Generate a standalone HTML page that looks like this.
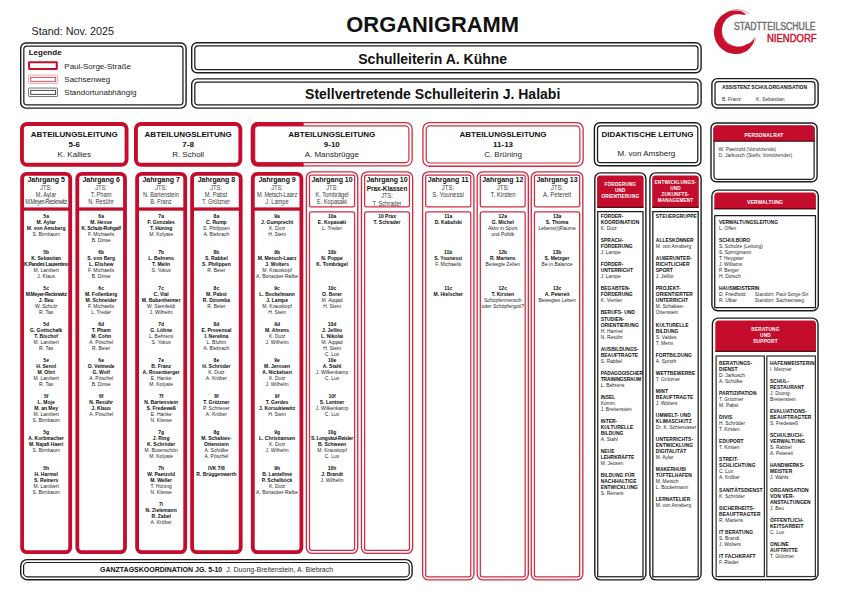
<!DOCTYPE html>
<html><head><meta charset="utf-8"><title>Organigramm</title><style>
html,body{margin:0;padding:0;background:#fff;}
body{width:842px;height:595px;position:relative;overflow:hidden;font-family:"Liberation Sans",sans-serif;}
.t{position:absolute;white-space:nowrap;}
svg.s{position:absolute;left:0;top:0;}
</style></head><body>
<svg class="s" width="842" height="595" viewBox="0 0 842 595">
<rect x="20.70" y="43.00" width="165.40" height="65.10" rx="5.30" fill="none" stroke="#1c1c1c" stroke-width="1.4"/>
<rect x="23.82" y="46.12" width="159.15" height="58.85" rx="3.17" fill="none" stroke="#1c1c1c" stroke-width="1.25"/>
<rect x="29.10" y="62.20" width="27.70" height="6.70" rx="0.40" fill="none" stroke="#c40d2c" stroke-width="2.0"/>
<rect x="28.55" y="75.05" width="29.00" height="8.40" rx="0.55" fill="none" stroke="#e8a0aa" stroke-width="0.9"/>
<rect x="30.75" y="77.35" width="24.90" height="4.00" rx="0.00" fill="none" stroke="#d23a4c" stroke-width="0.9"/>
<rect x="28.55" y="88.05" width="29.00" height="8.50" rx="0.55" fill="none" stroke="#666" stroke-width="0.9"/>
<rect x="30.75" y="90.35" width="24.90" height="4.00" rx="0.00" fill="none" stroke="#333" stroke-width="0.9"/>
<rect x="191.70" y="42.80" width="509.40" height="30.00" rx="5.30" fill="none" stroke="#1c1c1c" stroke-width="1.4"/>
<rect x="194.82" y="45.93" width="503.15" height="23.75" rx="3.17" fill="none" stroke="#1c1c1c" stroke-width="1.25"/>
<rect x="191.70" y="78.90" width="509.40" height="29.20" rx="5.30" fill="none" stroke="#1c1c1c" stroke-width="1.4"/>
<rect x="194.82" y="82.03" width="503.15" height="22.95" rx="3.17" fill="none" stroke="#1c1c1c" stroke-width="1.25"/>
<rect x="711.90" y="78.60" width="106.20" height="29.40" rx="5.30" fill="none" stroke="#1c1c1c" stroke-width="1.4"/>
<rect x="715.03" y="81.73" width="99.95" height="23.15" rx="3.17" fill="none" stroke="#1c1c1c" stroke-width="1.25"/>
<path d="M 746.46 14.89 L 745.43 13.95 L 744.29 13.03 L 743.03 12.15 L 741.67 11.32 L 740.36 11.00 L 739.04 10.75 L 737.70 10.59 L 736.36 10.51 L 735.01 10.51 L 733.67 10.60 L 732.33 10.77 L 731.01 11.02 L 729.70 11.36 L 728.42 11.77 L 727.16 12.27 L 725.94 12.84 L 724.76 13.48 L 723.62 14.20 L 722.52 14.98 L 721.48 15.84 L 720.49 16.75 L 719.56 17.72 L 718.69 18.75 L 717.89 19.84 L 717.16 20.97 L 716.49 22.14 L 715.90 23.35 L 715.39 24.60 L 714.96 25.87 L 714.60 27.17 L 714.33 28.49 L 714.14 29.83 L 714.03 31.17 L 714.00 32.52 L 714.06 33.86 L 714.20 35.20 L 714.43 36.53 L 714.73 37.84 L 715.12 39.13 L 715.58 40.40 L 716.13 41.63 L 716.75 42.83 L 717.44 43.98 L 718.20 45.10 L 719.03 46.16 L 719.92 47.17 L 720.87 48.12 L 721.89 49.01 L 722.95 49.83 L 724.06 50.59 L 725.22 51.28 L 726.42 51.90 L 727.66 52.44 L 728.92 52.90 L 730.21 53.28 L 731.53 53.59 L 732.85 53.81 L 734.19 53.94 L 735.54 54.00 L 736.89 53.97 L 738.23 53.86 L 739.56 53.66 L 740.88 53.39 L 742.18 53.03 L 743.46 52.59 L 744.70 52.07 L 745.91 51.48 L 747.08 50.81 L 748.18 49.81 L 749.21 48.76 L 750.16 47.65 L 751.04 46.51 L 751.84 45.33 L 752.56 44.13 L 753.20 42.89 L 753.77 41.64 L 754.25 40.38 L 754.65 39.11 L 754.97 37.83 L 755.21 36.56 L 755.21 36.56 L 754.74 37.52 L 754.21 38.43 L 753.62 39.29 L 752.98 40.10 L 752.30 40.84 L 751.58 41.52 L 750.82 42.14 L 750.03 42.69 L 749.21 43.18 L 748.37 43.59 L 747.51 43.94 L 746.64 44.23 L 745.77 44.72 L 744.87 45.16 L 743.94 45.55 L 742.99 45.88 L 742.02 46.14 L 741.04 46.35 L 740.05 46.49 L 739.05 46.58 L 738.04 46.60 L 737.04 46.56 L 736.04 46.46 L 735.05 46.29 L 734.08 46.07 L 733.11 45.78 L 732.17 45.44 L 731.25 45.03 L 730.36 44.58 L 729.50 44.06 L 728.67 43.50 L 727.87 42.88 L 727.12 42.22 L 726.41 41.51 L 725.74 40.76 L 725.13 39.97 L 724.56 39.14 L 724.04 38.28 L 723.58 37.39 L 723.18 36.47 L 722.83 35.53 L 722.54 34.57 L 722.32 33.59 L 722.15 32.60 L 722.04 31.60 L 722.00 30.60 L 722.02 29.59 L 722.10 28.59 L 722.24 27.60 L 722.45 26.62 L 722.71 25.65 L 723.04 24.70 L 723.42 23.77 L 723.86 22.87 L 724.35 22.00 L 724.90 21.15 L 725.50 20.35 L 726.14 19.58 L 726.84 18.86 L 727.57 18.17 L 728.35 17.54 L 729.16 16.95 L 730.01 16.42 L 730.90 15.94 L 731.81 15.52 L 732.74 15.15 L 733.69 14.84 L 734.67 14.59 L 735.65 14.40 L 736.65 14.27 L 737.65 14.21 L 738.65 14.21 L 739.65 14.27 L 740.65 14.39 L 741.64 14.57 L 742.61 14.81 L 743.49 14.69 L 744.43 14.66 L 745.42 14.73 L 746.46 14.89 Z" fill="#c8102e"/>
<path d="M 749.5 13.6 A 22.5 22.5 0 0 0 727 12" fill="none" stroke="#c8102e" stroke-width="0.7" opacity="0.6"/>
<path d="M 724.5 24 A 15 15 0 0 0 729 45" fill="none" stroke="#fff" stroke-width="0.5" opacity="0.5"/>
<path d="M 733 49.5 A 18 18 0 0 0 756.5 38" fill="none" stroke="#c8102e" stroke-width="0.6" opacity="0.55"/>
<rect x="21.95" y="123.95" width="104.60" height="40.80" rx="5.05" fill="none" stroke="#c40d2c" stroke-width="3.9"/>
<rect x="135.95" y="123.95" width="104.40" height="40.80" rx="5.05" fill="none" stroke="#c40d2c" stroke-width="3.9"/>
<rect x="251.45" y="122.65" width="160.70" height="43.30" rx="6.35" fill="none" stroke="#cf2c44" stroke-width="1.3"/>
<rect x="254.70" y="125.90" width="154.20" height="36.80" rx="3.90" fill="none" stroke="#cf2c44" stroke-width="1.2"/>
<path d="M 303.7 123.95 L 257.8 123.95 A 5.05 5.05 0 0 0 252.75 129 L 252.75 159.6 A 5.05 5.05 0 0 0 257.8 164.65 L 303.7 164.65" fill="none" stroke="#c40d2c" stroke-width="3.9"/>
<rect x="422.95" y="122.65" width="160.20" height="43.60" rx="6.35" fill="none" stroke="#cf2c44" stroke-width="1.3"/>
<rect x="426.20" y="125.90" width="153.70" height="37.10" rx="3.90" fill="none" stroke="#cf2c44" stroke-width="1.2"/>
<rect x="594.40" y="122.70" width="106.50" height="43.10" rx="5.30" fill="none" stroke="#1c1c1c" stroke-width="1.4"/>
<rect x="597.53" y="125.83" width="100.25" height="36.85" rx="3.17" fill="none" stroke="#1c1c1c" stroke-width="1.25"/>
<rect x="711.00" y="123.00" width="106.10" height="58.70" rx="5.30" fill="none" stroke="#1c1c1c" stroke-width="1.4"/>
<rect x="714.00" y="126.00" width="100.10" height="53.30" rx="3.20" fill="none" stroke="#1c1c1c" stroke-width="1.2"/>
<path d="M 713.6 129.0 A 3.4 3.4 0 0 1 717.0 125.6 L 811.1 125.6 A 3.4 3.4 0 0 1 814.5 129.0 L 814.5 141.4 A 0 0 0 0 1 814.5 141.4 L 713.6 141.4 A 0 0 0 0 1 713.6 141.4 Z" fill="#c40d2c"/>
<rect x="713.6" y="140.6" width="100.9" height="1" fill="#3a0a10"/>
<rect x="22.10" y="173.80" width="48.10" height="378.40" rx="4.60" fill="none" stroke="#c40d2c" stroke-width="3.8"/>
<rect x="21.2" y="207.4" width="49.89999999999999" height="3.3" fill="#c40d2c"/>
<rect x="77.30" y="173.80" width="47.70" height="378.40" rx="4.60" fill="none" stroke="#c40d2c" stroke-width="3.8"/>
<rect x="76.4" y="207.4" width="49.5" height="3.3" fill="#c40d2c"/>
<rect x="137.10" y="173.80" width="48.10" height="378.40" rx="4.60" fill="none" stroke="#c40d2c" stroke-width="3.8"/>
<rect x="136.2" y="207.4" width="49.900000000000006" height="3.3" fill="#c40d2c"/>
<rect x="192.10" y="173.80" width="48.60" height="378.40" rx="4.60" fill="none" stroke="#c40d2c" stroke-width="3.8"/>
<rect x="191.2" y="207.4" width="50.400000000000006" height="3.3" fill="#c40d2c"/>
<rect x="252.80" y="173.80" width="48.60" height="378.40" rx="4.60" fill="none" stroke="#c40d2c" stroke-width="3.8"/>
<rect x="251.9" y="207.4" width="50.400000000000006" height="3.3" fill="#c40d2c"/>
<rect x="306.38" y="171.88" width="51.35" height="381.55" rx="5.83" fill="none" stroke="#cf2c44" stroke-width="1.35"/>
<rect x="309.52" y="175.03" width="45.05" height="31.85" rx="1.58" fill="none" stroke="#cf2c44" stroke-width="1.25"/>
<rect x="309.52" y="211.82" width="45.05" height="338.45" rx="1.98" fill="none" stroke="#cf2c44" stroke-width="1.25"/>
<rect x="361.48" y="171.88" width="51.15" height="381.55" rx="5.83" fill="none" stroke="#cf2c44" stroke-width="1.35"/>
<rect x="364.62" y="175.03" width="44.85" height="31.85" rx="1.58" fill="none" stroke="#cf2c44" stroke-width="1.25"/>
<rect x="364.62" y="211.82" width="44.85" height="338.45" rx="1.98" fill="none" stroke="#cf2c44" stroke-width="1.25"/>
<rect x="422.57" y="171.88" width="51.35" height="408.05" rx="5.83" fill="none" stroke="#cf2c44" stroke-width="1.35"/>
<rect x="425.72" y="175.03" width="45.05" height="31.85" rx="1.58" fill="none" stroke="#cf2c44" stroke-width="1.25"/>
<rect x="425.72" y="211.82" width="45.05" height="364.95" rx="1.98" fill="none" stroke="#cf2c44" stroke-width="1.25"/>
<rect x="477.18" y="171.88" width="51.15" height="408.05" rx="5.83" fill="none" stroke="#cf2c44" stroke-width="1.35"/>
<rect x="480.32" y="175.03" width="44.85" height="31.85" rx="1.58" fill="none" stroke="#cf2c44" stroke-width="1.25"/>
<rect x="480.32" y="211.82" width="44.85" height="364.95" rx="1.98" fill="none" stroke="#cf2c44" stroke-width="1.25"/>
<rect x="531.27" y="171.88" width="51.55" height="408.05" rx="5.83" fill="none" stroke="#cf2c44" stroke-width="1.35"/>
<rect x="534.43" y="175.03" width="45.25" height="31.85" rx="1.58" fill="none" stroke="#cf2c44" stroke-width="1.25"/>
<rect x="534.43" y="211.82" width="45.25" height="364.95" rx="1.98" fill="none" stroke="#cf2c44" stroke-width="1.25"/>
<rect x="594.80" y="172.90" width="51.10" height="407.00" rx="5.80" fill="none" stroke="#1c1c1c" stroke-width="1.4"/>
<path d="M 597.1 178.79999999999998 A 3.2 3.2 0 0 1 600.3000000000001 175.6 L 640.4 175.6 A 3.2 3.2 0 0 1 643.6 178.79999999999998 L 643.6 207.8 A 0 0 0 0 1 643.6 207.8 L 597.1 207.8 A 0 0 0 0 1 597.1 207.8 Z" fill="#c40d2c"/>
<rect x="597.1" y="206.8" width="46.5" height="1.1" fill="#3a0a10"/>
<rect x="597.73" y="211.62" width="45.25" height="365.15" rx="0.00" fill="none" stroke="#1c1c1c" stroke-width="1.25"/>
<rect x="649.90" y="172.90" width="51.20" height="407.00" rx="5.80" fill="none" stroke="#1c1c1c" stroke-width="1.4"/>
<path d="M 652.2 178.79999999999998 A 3.2 3.2 0 0 1 655.4000000000001 175.6 L 695.5999999999999 175.6 A 3.2 3.2 0 0 1 698.8 178.79999999999998 L 698.8 207.8 A 0 0 0 0 1 698.8 207.8 L 652.2 207.8 A 0 0 0 0 1 652.2 207.8 Z" fill="#c40d2c"/>
<rect x="652.2" y="206.8" width="46.59999999999991" height="1.1" fill="#3a0a10"/>
<rect x="652.83" y="211.62" width="45.35" height="365.15" rx="0.00" fill="none" stroke="#1c1c1c" stroke-width="1.25"/>
<rect x="711.90" y="190.10" width="106.40" height="120.60" rx="5.80" fill="none" stroke="#1c1c1c" stroke-width="1.4"/>
<path d="M 714.3 196.2 A 3.6 3.6 0 0 1 717.9 192.6 L 812.3 192.6 A 3.6 3.6 0 0 1 815.9 196.2 L 815.9 209.2 A 0 0 0 0 1 815.9 209.2 L 714.3 209.2 A 0 0 0 0 1 714.3 209.2 Z" fill="#c40d2c"/>
<rect x="714.3" y="208.2" width="101.6" height="1.1" fill="#3a0a10"/>
<rect x="714.73" y="215.53" width="100.75" height="92.15" rx="0.18" fill="none" stroke="#1c1c1c" stroke-width="1.25"/>
<rect x="712.40" y="318.10" width="105.60" height="261.60" rx="5.80" fill="none" stroke="#1c1c1c" stroke-width="1.4"/>
<path d="M 715.3 324.1 A 3.6 3.6 0 0 1 718.9 320.5 L 812.4 320.5 A 3.6 3.6 0 0 1 816 324.1 L 816 351.8 A 0 0 0 0 1 816 351.8 L 715.3 351.8 A 0 0 0 0 1 715.3 351.8 Z" fill="#c40d2c"/>
<rect x="715.3" y="350.8" width="100.7" height="1.1" fill="#3a0a10"/>
<rect x="716.12" y="356.02" width="48.25" height="220.55" rx="0.00" fill="none" stroke="#333" stroke-width="1.25"/>
<rect x="766.83" y="356.02" width="48.55" height="220.55" rx="0.00" fill="none" stroke="#333" stroke-width="1.25"/>
<rect x="20.70" y="559.60" width="391.40" height="20.10" rx="6.30" fill="none" stroke="#1c1c1c" stroke-width="1.4"/>
<rect x="23.60" y="562.50" width="385.60" height="14.30" rx="3.90" fill="none" stroke="#1c1c1c" stroke-width="1.2"/>
</svg>
<div class="t" style="left:12.80px;top:24.72px;width:120px;line-height:12.96px;font-size:10.8px;font-weight:400;color:#222;text-align:center;letter-spacing:0px;">Stand: Nov. 2025</div>
<div class="t" style="left:302.70px;top:12.06px;width:260px;line-height:26.279999999999998px;font-size:21.9px;font-weight:700;color:#111;text-align:center;letter-spacing:0px;">ORGANIGRAMM</div>
<div class="t" style="left:28.70px;top:48.30px;width:60px;line-height:9.6px;font-size:8px;font-weight:700;color:#111;text-align:left;letter-spacing:0px;">Legende</div>
<div class="t" style="left:64.30px;top:61.80px;width:100px;line-height:9.6px;font-size:8px;font-weight:400;color:#222;text-align:left;letter-spacing:0px;">Paul-Sorge-Straße</div>
<div class="t" style="left:64.30px;top:75.00px;width:100px;line-height:9.6px;font-size:8px;font-weight:400;color:#222;text-align:left;letter-spacing:0px;">Sachsenweg</div>
<div class="t" style="left:64.30px;top:88.00px;width:100px;line-height:9.6px;font-size:8px;font-weight:400;color:#222;text-align:left;letter-spacing:0px;">Standortunabhängig</div>
<div class="t" style="left:282.70px;top:50.60px;width:300px;line-height:16.8px;font-size:14px;font-weight:700;color:#111;text-align:center;letter-spacing:0px;">Schulleiterin A. Kühne</div>
<div class="t" style="left:232.70px;top:85.60px;width:400px;line-height:16.8px;font-size:14px;font-weight:700;color:#111;text-align:center;letter-spacing:0px;">Stellvertretende Schulleiterin J. Halabi</div>
<div class="t" style="left:721.90px;top:83.80px;width:100px;line-height:6.0px;font-size:5px;font-weight:700;color:#111;text-align:left;letter-spacing:0px;">ASSISTENZ SCHULORGANISATION</div>
<div class="t" style="left:721.90px;top:95.60px;width:40px;line-height:6.0px;font-size:5px;font-weight:400;color:#333;text-align:left;letter-spacing:0px;">B. Franz</div>
<div class="t" style="left:756.10px;top:95.60px;width:50px;line-height:6.0px;font-size:5px;font-weight:400;color:#333;text-align:left;letter-spacing:0px;">K. Sebastian</div>
<div class="t" style="left:734.4px;top:21.6px;line-height:10px;font-size:10px;color:#6d6e71;transform:scaleX(0.87);transform-origin:0 0;-webkit-text-stroke:0.4px #6d6e71">STADTTEILSCHULE</div>
<div class="t" style="left:766.8px;top:33.6px;line-height:10px;font-size:10px;color:#c8102e;transform:scaleX(0.95);transform-origin:0 0;-webkit-text-stroke:0.4px #c8102e">NIENDORF</div>
<div class="t" style="left:14.25px;top:130.10px;width:120px;line-height:9.6px;font-size:8px;font-weight:700;color:#111;text-align:center;letter-spacing:0px;">ABTEILUNGSLEITUNG</div>
<div class="t" style="left:44.25px;top:140.10px;width:60px;line-height:9.6px;font-size:8px;font-weight:700;color:#111;text-align:center;letter-spacing:0px;">5-6</div>
<div class="t" style="left:24.25px;top:149.50px;width:100px;line-height:9.6px;font-size:8px;font-weight:400;color:#1e1e1e;text-align:center;letter-spacing:0px;">K. Kallies</div>
<div class="t" style="left:128.15px;top:130.10px;width:120px;line-height:9.6px;font-size:8px;font-weight:700;color:#111;text-align:center;letter-spacing:0px;">ABTEILUNGSLEITUNG</div>
<div class="t" style="left:158.15px;top:140.10px;width:60px;line-height:9.6px;font-size:8px;font-weight:700;color:#111;text-align:center;letter-spacing:0px;">7-8</div>
<div class="t" style="left:138.15px;top:149.50px;width:100px;line-height:9.6px;font-size:8px;font-weight:400;color:#1e1e1e;text-align:center;letter-spacing:0px;">R. Scholl</div>
<div class="t" style="left:271.80px;top:130.10px;width:120px;line-height:9.6px;font-size:8px;font-weight:700;color:#111;text-align:center;letter-spacing:0px;">ABTEILUNGSLEITUNG</div>
<div class="t" style="left:301.80px;top:140.10px;width:60px;line-height:9.6px;font-size:8px;font-weight:700;color:#111;text-align:center;letter-spacing:0px;">9-10</div>
<div class="t" style="left:281.80px;top:149.50px;width:100px;line-height:9.6px;font-size:8px;font-weight:400;color:#1e1e1e;text-align:center;letter-spacing:0px;">A. Mansbrügge</div>
<div class="t" style="left:443.05px;top:130.10px;width:120px;line-height:9.6px;font-size:8px;font-weight:700;color:#111;text-align:center;letter-spacing:0px;">ABTEILUNGSLEITUNG</div>
<div class="t" style="left:473.05px;top:140.10px;width:60px;line-height:9.6px;font-size:8px;font-weight:700;color:#111;text-align:center;letter-spacing:0px;">11-13</div>
<div class="t" style="left:453.05px;top:149.50px;width:100px;line-height:9.6px;font-size:8px;font-weight:400;color:#1e1e1e;text-align:center;letter-spacing:0px;">C. Brüning</div>
<div class="t" style="left:587.40px;top:129.80px;width:120px;line-height:9.6px;font-size:8px;font-weight:700;color:#111;text-align:center;letter-spacing:0px;">DIDAKTISCHE LEITUNG</div>
<div class="t" style="left:596.40px;top:148.90px;width:100px;line-height:9.6px;font-size:8px;font-weight:400;color:#222;text-align:center;letter-spacing:0px;">M. von Amsberg</div>
<div class="t" style="left:724.00px;top:131.60px;width:80px;line-height:6.0px;font-size:5px;font-weight:700;color:#fff;text-align:center;letter-spacing:0.1px;">PERSONALRAT</div>
<div class="t" style="left:718.50px;top:146.10px;width:90px;line-height:6.0px;font-size:5px;font-weight:400;color:#333;text-align:left;letter-spacing:0px;">W. Paetzold (Vorsitzende)</div>
<div class="t" style="left:718.50px;top:152.00px;width:100px;line-height:6.0px;font-size:5px;font-weight:400;color:#333;text-align:left;letter-spacing:0px;">D. Jarkusch (Stellv. Vorsitzender)</div>
<div class="t" style="left:11.15px;top:176.30px;width:70px;line-height:8px;font-size:7px;font-weight:700;color:#111;text-align:center">Jahrgang 5</div>
<div class="t" style="left:11.15px;top:183.85px;width:70px;line-height:8px;font-size:6.5px;color:#3a3a3a;text-align:center;transform:scaleX(0.87);transform-origin:50% 50%">JTS:</div>
<div class="t" style="left:11.15px;top:191.10px;width:70px;line-height:8px;font-size:6.5px;color:#3a3a3a;text-align:center;transform:scaleX(0.87);transform-origin:50% 50%">M. Aylar</div>
<div class="t" style="left:11.15px;top:198.35px;width:70px;line-height:8px;font-size:6.5px;color:#3a3a3a;text-align:center;transform:scaleX(0.87);transform-origin:50% 50%"><span style="letter-spacing:-0.55px">M.Meyer-Recknwitz</span></div>
<div style="position:absolute;left:0;top:0;font-size:5px"><div class="t" style="left:11.15px;top:212.70px;width:70px;line-height:7px;text-align:center;font-weight:700;color:#0c0c0c;letter-spacing:0px">5a</div><div class="t" style="left:11.15px;top:218.71px;width:70px;line-height:7px;text-align:center;font-weight:700;color:#0c0c0c;letter-spacing:0px">M. Aylar</div><div class="t" style="left:11.15px;top:224.72px;width:70px;line-height:7px;text-align:center;font-weight:700;color:#0c0c0c;letter-spacing:0px">M. von Amsberg</div><div class="t" style="left:11.15px;top:230.73px;width:70px;line-height:7px;text-align:center;color:#262626">S. Birnbaum</div><div class="t" style="left:11.15px;top:248.76px;width:70px;line-height:7px;text-align:center;font-weight:700;color:#0c0c0c;letter-spacing:0px">5b</div><div class="t" style="left:11.15px;top:254.77px;width:70px;line-height:7px;text-align:center;font-weight:700;color:#0c0c0c;letter-spacing:0px">K. Sebastian</div><div class="t" style="left:11.15px;top:260.78px;width:70px;line-height:7px;text-align:center;font-weight:700;color:#0c0c0c;letter-spacing:0px"><span style="letter-spacing:-0.3px">K.Pandini Laurentino</span></div><div class="t" style="left:11.15px;top:266.79px;width:70px;line-height:7px;text-align:center;color:#262626">M. Lambert</div><div class="t" style="left:11.15px;top:272.80px;width:70px;line-height:7px;text-align:center;color:#262626">J. Klaus</div><div class="t" style="left:11.15px;top:284.82px;width:70px;line-height:7px;text-align:center;font-weight:700;color:#0c0c0c;letter-spacing:0px">5c</div><div class="t" style="left:11.15px;top:290.83px;width:70px;line-height:7px;text-align:center;font-weight:700;color:#0c0c0c;letter-spacing:0px"><span style="letter-spacing:-0.3px">M.Meyer-Recknwitz</span></div><div class="t" style="left:11.15px;top:296.84px;width:70px;line-height:7px;text-align:center;font-weight:700;color:#0c0c0c;letter-spacing:0px">J. Beu</div><div class="t" style="left:11.15px;top:302.85px;width:70px;line-height:7px;text-align:center;color:#262626">W. Schulz</div><div class="t" style="left:11.15px;top:308.86px;width:70px;line-height:7px;text-align:center;color:#262626">R. Tas</div><div class="t" style="left:11.15px;top:320.88px;width:70px;line-height:7px;text-align:center;font-weight:700;color:#0c0c0c;letter-spacing:0px">5d</div><div class="t" style="left:11.15px;top:326.89px;width:70px;line-height:7px;text-align:center;font-weight:700;color:#0c0c0c;letter-spacing:0px">G. Gottschalk</div><div class="t" style="left:11.15px;top:332.90px;width:70px;line-height:7px;text-align:center;font-weight:700;color:#0c0c0c;letter-spacing:0px">T. Bischof</div><div class="t" style="left:11.15px;top:338.91px;width:70px;line-height:7px;text-align:center;color:#262626">M. Lambert</div><div class="t" style="left:11.15px;top:344.92px;width:70px;line-height:7px;text-align:center;color:#262626">R. Tas</div><div class="t" style="left:11.15px;top:356.94px;width:70px;line-height:7px;text-align:center;font-weight:700;color:#0c0c0c;letter-spacing:0px">5e</div><div class="t" style="left:11.15px;top:362.95px;width:70px;line-height:7px;text-align:center;font-weight:700;color:#0c0c0c;letter-spacing:0px">H. Senol</div><div class="t" style="left:11.15px;top:368.96px;width:70px;line-height:7px;text-align:center;font-weight:700;color:#0c0c0c;letter-spacing:0px">M. Ohrt</div><div class="t" style="left:11.15px;top:374.97px;width:70px;line-height:7px;text-align:center;color:#262626">M. Lambert</div><div class="t" style="left:11.15px;top:380.98px;width:70px;line-height:7px;text-align:center;color:#262626">R. Tas</div><div class="t" style="left:11.15px;top:393.00px;width:70px;line-height:7px;text-align:center;font-weight:700;color:#0c0c0c;letter-spacing:0px">5f</div><div class="t" style="left:11.15px;top:399.01px;width:70px;line-height:7px;text-align:center;font-weight:700;color:#0c0c0c;letter-spacing:0px">L. Moje</div><div class="t" style="left:11.15px;top:405.02px;width:70px;line-height:7px;text-align:center;font-weight:700;color:#0c0c0c;letter-spacing:0px">M. an Mey</div><div class="t" style="left:11.15px;top:411.03px;width:70px;line-height:7px;text-align:center;color:#262626">M. Lambert</div><div class="t" style="left:11.15px;top:417.04px;width:70px;line-height:7px;text-align:center;color:#262626">S. Birnbaum</div><div class="t" style="left:11.15px;top:429.06px;width:70px;line-height:7px;text-align:center;font-weight:700;color:#0c0c0c;letter-spacing:0px">5g</div><div class="t" style="left:11.15px;top:435.07px;width:70px;line-height:7px;text-align:center;font-weight:700;color:#0c0c0c;letter-spacing:0px">A. Korbmacher</div><div class="t" style="left:11.15px;top:441.08px;width:70px;line-height:7px;text-align:center;font-weight:700;color:#0c0c0c;letter-spacing:0px">M. Najafi Haeri</div><div class="t" style="left:11.15px;top:447.09px;width:70px;line-height:7px;text-align:center;color:#262626">S. Birnbaum</div><div class="t" style="left:11.15px;top:465.12px;width:70px;line-height:7px;text-align:center;font-weight:700;color:#0c0c0c;letter-spacing:0px">5h</div><div class="t" style="left:11.15px;top:471.13px;width:70px;line-height:7px;text-align:center;font-weight:700;color:#0c0c0c;letter-spacing:0px">H. Harmel</div><div class="t" style="left:11.15px;top:477.14px;width:70px;line-height:7px;text-align:center;font-weight:700;color:#0c0c0c;letter-spacing:0px">S. Reiners</div><div class="t" style="left:11.15px;top:483.15px;width:70px;line-height:7px;text-align:center;color:#262626">M. Lambert</div><div class="t" style="left:11.15px;top:489.16px;width:70px;line-height:7px;text-align:center;color:#262626">S. Birnbaum</div></div>
<div class="t" style="left:66.15px;top:176.30px;width:70px;line-height:8px;font-size:7px;font-weight:700;color:#111;text-align:center">Jahrgang 6</div>
<div class="t" style="left:66.15px;top:183.85px;width:70px;line-height:8px;font-size:6.5px;color:#3a3a3a;text-align:center;transform:scaleX(0.87);transform-origin:50% 50%">JTS:</div>
<div class="t" style="left:66.15px;top:191.10px;width:70px;line-height:8px;font-size:6.5px;color:#3a3a3a;text-align:center;transform:scaleX(0.87);transform-origin:50% 50%">T. Pham</div>
<div class="t" style="left:66.15px;top:198.35px;width:70px;line-height:8px;font-size:6.5px;color:#3a3a3a;text-align:center;transform:scaleX(0.87);transform-origin:50% 50%">N. Resühr</div>
<div style="position:absolute;left:0;top:0;font-size:5px"><div class="t" style="left:66.15px;top:212.70px;width:70px;line-height:7px;text-align:center;font-weight:700;color:#0c0c0c;letter-spacing:0px">6a</div><div class="t" style="left:66.15px;top:218.71px;width:70px;line-height:7px;text-align:center;font-weight:700;color:#0c0c0c;letter-spacing:0px">M. Hesse</div><div class="t" style="left:66.15px;top:224.72px;width:70px;line-height:7px;text-align:center;font-weight:700;color:#0c0c0c;letter-spacing:0px"><span style="letter-spacing:-0.2px">K. Schulz-Rohgalf</span></div><div class="t" style="left:66.15px;top:230.73px;width:70px;line-height:7px;text-align:center;color:#262626">F. Michaelis</div><div class="t" style="left:66.15px;top:236.74px;width:70px;line-height:7px;text-align:center;color:#262626">B. Dinse</div><div class="t" style="left:66.15px;top:248.76px;width:70px;line-height:7px;text-align:center;font-weight:700;color:#0c0c0c;letter-spacing:0px">6b</div><div class="t" style="left:66.15px;top:254.77px;width:70px;line-height:7px;text-align:center;font-weight:700;color:#0c0c0c;letter-spacing:0px">S. von Berg</div><div class="t" style="left:66.15px;top:260.78px;width:70px;line-height:7px;text-align:center;font-weight:700;color:#0c0c0c;letter-spacing:0px">L. Elishew</div><div class="t" style="left:66.15px;top:266.79px;width:70px;line-height:7px;text-align:center;color:#262626">F. Michaelis</div><div class="t" style="left:66.15px;top:272.80px;width:70px;line-height:7px;text-align:center;color:#262626">B. Dinse</div><div class="t" style="left:66.15px;top:284.82px;width:70px;line-height:7px;text-align:center;font-weight:700;color:#0c0c0c;letter-spacing:0px">6c</div><div class="t" style="left:66.15px;top:290.83px;width:70px;line-height:7px;text-align:center;font-weight:700;color:#0c0c0c;letter-spacing:0px">M. Follenberg</div><div class="t" style="left:66.15px;top:296.84px;width:70px;line-height:7px;text-align:center;font-weight:700;color:#0c0c0c;letter-spacing:0px">M. Schneider</div><div class="t" style="left:66.15px;top:302.85px;width:70px;line-height:7px;text-align:center;color:#262626">F. Michaelis</div><div class="t" style="left:66.15px;top:308.86px;width:70px;line-height:7px;text-align:center;color:#262626">L. Treder</div><div class="t" style="left:66.15px;top:320.88px;width:70px;line-height:7px;text-align:center;font-weight:700;color:#0c0c0c;letter-spacing:0px">6d</div><div class="t" style="left:66.15px;top:326.89px;width:70px;line-height:7px;text-align:center;font-weight:700;color:#0c0c0c;letter-spacing:0px">T. Pham</div><div class="t" style="left:66.15px;top:332.90px;width:70px;line-height:7px;text-align:center;font-weight:700;color:#0c0c0c;letter-spacing:0px">M. Cohn</div><div class="t" style="left:66.15px;top:338.91px;width:70px;line-height:7px;text-align:center;color:#262626">A. Pöschel</div><div class="t" style="left:66.15px;top:344.92px;width:70px;line-height:7px;text-align:center;color:#262626">R. Beier</div><div class="t" style="left:66.15px;top:356.94px;width:70px;line-height:7px;text-align:center;font-weight:700;color:#0c0c0c;letter-spacing:0px">6e</div><div class="t" style="left:66.15px;top:362.95px;width:70px;line-height:7px;text-align:center;font-weight:700;color:#0c0c0c;letter-spacing:0px">O. Velmede</div><div class="t" style="left:66.15px;top:368.96px;width:70px;line-height:7px;text-align:center;font-weight:700;color:#0c0c0c;letter-spacing:0px">G. Wolf</div><div class="t" style="left:66.15px;top:374.97px;width:70px;line-height:7px;text-align:center;color:#262626">A. Pöschel</div><div class="t" style="left:66.15px;top:380.98px;width:70px;line-height:7px;text-align:center;color:#262626">B. Dinse</div><div class="t" style="left:66.15px;top:393.00px;width:70px;line-height:7px;text-align:center;font-weight:700;color:#0c0c0c;letter-spacing:0px">6f</div><div class="t" style="left:66.15px;top:399.01px;width:70px;line-height:7px;text-align:center;font-weight:700;color:#0c0c0c;letter-spacing:0px">N. Resühr</div><div class="t" style="left:66.15px;top:405.02px;width:70px;line-height:7px;text-align:center;font-weight:700;color:#0c0c0c;letter-spacing:0px">J. Klaus</div><div class="t" style="left:66.15px;top:411.03px;width:70px;line-height:7px;text-align:center;color:#262626">A. Pöschel</div></div>
<div class="t" style="left:126.15px;top:176.30px;width:70px;line-height:8px;font-size:7px;font-weight:700;color:#111;text-align:center">Jahrgang 7</div>
<div class="t" style="left:126.15px;top:183.85px;width:70px;line-height:8px;font-size:6.5px;color:#3a3a3a;text-align:center;transform:scaleX(0.87);transform-origin:50% 50%">JTS:</div>
<div class="t" style="left:126.15px;top:191.10px;width:70px;line-height:8px;font-size:6.5px;color:#3a3a3a;text-align:center;transform:scaleX(0.87);transform-origin:50% 50%">N. Bartenstein</div>
<div class="t" style="left:126.15px;top:198.35px;width:70px;line-height:8px;font-size:6.5px;color:#3a3a3a;text-align:center;transform:scaleX(0.87);transform-origin:50% 50%">B. Franz</div>
<div style="position:absolute;left:0;top:0;font-size:5px"><div class="t" style="left:126.15px;top:212.70px;width:70px;line-height:7px;text-align:center;font-weight:700;color:#0c0c0c;letter-spacing:0px">7a</div><div class="t" style="left:126.15px;top:218.71px;width:70px;line-height:7px;text-align:center;font-weight:700;color:#0c0c0c;letter-spacing:0px">F. Gonzales</div><div class="t" style="left:126.15px;top:224.72px;width:70px;line-height:7px;text-align:center;font-weight:700;color:#0c0c0c;letter-spacing:0px">T. Hüning</div><div class="t" style="left:126.15px;top:230.73px;width:70px;line-height:7px;text-align:center;color:#262626">M. Kolyate</div><div class="t" style="left:126.15px;top:248.76px;width:70px;line-height:7px;text-align:center;font-weight:700;color:#0c0c0c;letter-spacing:0px">7b</div><div class="t" style="left:126.15px;top:254.77px;width:70px;line-height:7px;text-align:center;font-weight:700;color:#0c0c0c;letter-spacing:0px">L. Behrens</div><div class="t" style="left:126.15px;top:260.78px;width:70px;line-height:7px;text-align:center;font-weight:700;color:#0c0c0c;letter-spacing:0px">T. Melin</div><div class="t" style="left:126.15px;top:266.79px;width:70px;line-height:7px;text-align:center;color:#262626">S. Yokus</div><div class="t" style="left:126.15px;top:284.82px;width:70px;line-height:7px;text-align:center;font-weight:700;color:#0c0c0c;letter-spacing:0px">7c</div><div class="t" style="left:126.15px;top:290.83px;width:70px;line-height:7px;text-align:center;font-weight:700;color:#0c0c0c;letter-spacing:0px">C. Vial</div><div class="t" style="left:126.15px;top:296.84px;width:70px;line-height:7px;text-align:center;font-weight:700;color:#0c0c0c;letter-spacing:0px">M. Bubenheimer</div><div class="t" style="left:126.15px;top:302.85px;width:70px;line-height:7px;text-align:center;color:#262626">W. Steinfeldt</div><div class="t" style="left:126.15px;top:308.86px;width:70px;line-height:7px;text-align:center;color:#262626">J. Wilhelm</div><div class="t" style="left:126.15px;top:320.88px;width:70px;line-height:7px;text-align:center;font-weight:700;color:#0c0c0c;letter-spacing:0px">7d</div><div class="t" style="left:126.15px;top:326.89px;width:70px;line-height:7px;text-align:center;font-weight:700;color:#0c0c0c;letter-spacing:0px">G. Löhne</div><div class="t" style="left:126.15px;top:332.90px;width:70px;line-height:7px;text-align:center;color:#262626">L. Behrens</div><div class="t" style="left:126.15px;top:338.91px;width:70px;line-height:7px;text-align:center;color:#262626">S. Yokus</div><div class="t" style="left:126.15px;top:356.94px;width:70px;line-height:7px;text-align:center;font-weight:700;color:#0c0c0c;letter-spacing:0px">7e</div><div class="t" style="left:126.15px;top:362.95px;width:70px;line-height:7px;text-align:center;font-weight:700;color:#0c0c0c;letter-spacing:0px">B. Franz</div><div class="t" style="left:126.15px;top:368.96px;width:70px;line-height:7px;text-align:center;font-weight:700;color:#0c0c0c;letter-spacing:0px">A. Rosenberger</div><div class="t" style="left:126.15px;top:374.97px;width:70px;line-height:7px;text-align:center;color:#262626">E. Hanke</div><div class="t" style="left:126.15px;top:380.98px;width:70px;line-height:7px;text-align:center;color:#262626">M. Kolyate</div><div class="t" style="left:126.15px;top:393.00px;width:70px;line-height:7px;text-align:center;font-weight:700;color:#0c0c0c;letter-spacing:0px">7f</div><div class="t" style="left:126.15px;top:399.01px;width:70px;line-height:7px;text-align:center;font-weight:700;color:#0c0c0c;letter-spacing:0px">N. Bartenstein</div><div class="t" style="left:126.15px;top:405.02px;width:70px;line-height:7px;text-align:center;font-weight:700;color:#0c0c0c;letter-spacing:0px">S. Fredeweß</div><div class="t" style="left:126.15px;top:411.03px;width:70px;line-height:7px;text-align:center;color:#262626">E. Hanke</div><div class="t" style="left:126.15px;top:417.04px;width:70px;line-height:7px;text-align:center;color:#262626">N. Klesse</div><div class="t" style="left:126.15px;top:429.06px;width:70px;line-height:7px;text-align:center;font-weight:700;color:#0c0c0c;letter-spacing:0px">7g</div><div class="t" style="left:126.15px;top:435.07px;width:70px;line-height:7px;text-align:center;font-weight:700;color:#0c0c0c;letter-spacing:0px">J. Ring</div><div class="t" style="left:126.15px;top:441.08px;width:70px;line-height:7px;text-align:center;font-weight:700;color:#0c0c0c;letter-spacing:0px">K. Schröder</div><div class="t" style="left:126.15px;top:447.09px;width:70px;line-height:7px;text-align:center;color:#262626">M. Butenschön</div><div class="t" style="left:126.15px;top:453.10px;width:70px;line-height:7px;text-align:center;color:#262626">M. Kolyate</div><div class="t" style="left:126.15px;top:465.12px;width:70px;line-height:7px;text-align:center;font-weight:700;color:#0c0c0c;letter-spacing:0px">7h</div><div class="t" style="left:126.15px;top:471.13px;width:70px;line-height:7px;text-align:center;font-weight:700;color:#0c0c0c;letter-spacing:0px">W. Paetzold</div><div class="t" style="left:126.15px;top:477.14px;width:70px;line-height:7px;text-align:center;font-weight:700;color:#0c0c0c;letter-spacing:0px">M. Weller</div><div class="t" style="left:126.15px;top:483.15px;width:70px;line-height:7px;text-align:center;color:#262626">T. Hüning</div><div class="t" style="left:126.15px;top:489.16px;width:70px;line-height:7px;text-align:center;color:#262626">N. Klesse</div><div class="t" style="left:126.15px;top:501.18px;width:70px;line-height:7px;text-align:center;font-weight:700;color:#0c0c0c;letter-spacing:0px">7i</div><div class="t" style="left:126.15px;top:507.19px;width:70px;line-height:7px;text-align:center;font-weight:700;color:#0c0c0c;letter-spacing:0px">N. Zielemann</div><div class="t" style="left:126.15px;top:513.20px;width:70px;line-height:7px;text-align:center;font-weight:700;color:#0c0c0c;letter-spacing:0px">R. Zabel</div><div class="t" style="left:126.15px;top:519.21px;width:70px;line-height:7px;text-align:center;color:#262626">A. Kröber</div></div>
<div class="t" style="left:181.40px;top:176.30px;width:70px;line-height:8px;font-size:7px;font-weight:700;color:#111;text-align:center">Jahrgang 8</div>
<div class="t" style="left:181.40px;top:183.85px;width:70px;line-height:8px;font-size:6.5px;color:#3a3a3a;text-align:center;transform:scaleX(0.87);transform-origin:50% 50%">JTS:</div>
<div class="t" style="left:181.40px;top:191.10px;width:70px;line-height:8px;font-size:6.5px;color:#3a3a3a;text-align:center;transform:scaleX(0.87);transform-origin:50% 50%">M. Pabst</div>
<div class="t" style="left:181.40px;top:198.35px;width:70px;line-height:8px;font-size:6.5px;color:#3a3a3a;text-align:center;transform:scaleX(0.87);transform-origin:50% 50%">T. Grützner</div>
<div style="position:absolute;left:0;top:0;font-size:5px"><div class="t" style="left:181.40px;top:212.70px;width:70px;line-height:7px;text-align:center;font-weight:700;color:#0c0c0c;letter-spacing:0px">8a</div><div class="t" style="left:181.40px;top:218.71px;width:70px;line-height:7px;text-align:center;font-weight:700;color:#0c0c0c;letter-spacing:0px">C. Rump</div><div class="t" style="left:181.40px;top:224.72px;width:70px;line-height:7px;text-align:center;color:#262626">S. Philippen</div><div class="t" style="left:181.40px;top:230.73px;width:70px;line-height:7px;text-align:center;color:#262626">A. Biebrach</div><div class="t" style="left:181.40px;top:248.76px;width:70px;line-height:7px;text-align:center;font-weight:700;color:#0c0c0c;letter-spacing:0px">8b</div><div class="t" style="left:181.40px;top:254.77px;width:70px;line-height:7px;text-align:center;font-weight:700;color:#0c0c0c;letter-spacing:0px">S. Rabbel</div><div class="t" style="left:181.40px;top:260.78px;width:70px;line-height:7px;text-align:center;font-weight:700;color:#0c0c0c;letter-spacing:0px">S. Philippen</div><div class="t" style="left:181.40px;top:266.79px;width:70px;line-height:7px;text-align:center;color:#262626">R. Beier</div><div class="t" style="left:181.40px;top:284.82px;width:70px;line-height:7px;text-align:center;font-weight:700;color:#0c0c0c;letter-spacing:0px">8c</div><div class="t" style="left:181.40px;top:290.83px;width:70px;line-height:7px;text-align:center;font-weight:700;color:#0c0c0c;letter-spacing:0px">M. Pabst</div><div class="t" style="left:181.40px;top:296.84px;width:70px;line-height:7px;text-align:center;font-weight:700;color:#0c0c0c;letter-spacing:0px">R. Dziomba</div><div class="t" style="left:181.40px;top:302.85px;width:70px;line-height:7px;text-align:center;color:#262626">R. Beier</div><div class="t" style="left:181.40px;top:320.88px;width:70px;line-height:7px;text-align:center;font-weight:700;color:#0c0c0c;letter-spacing:0px">8d</div><div class="t" style="left:181.40px;top:326.89px;width:70px;line-height:7px;text-align:center;font-weight:700;color:#0c0c0c;letter-spacing:0px">E. Provensal</div><div class="t" style="left:181.40px;top:332.90px;width:70px;line-height:7px;text-align:center;font-weight:700;color:#0c0c0c;letter-spacing:0px">I. Nerelina</div><div class="t" style="left:181.40px;top:338.91px;width:70px;line-height:7px;text-align:center;color:#262626">L. Bluhm</div><div class="t" style="left:181.40px;top:344.92px;width:70px;line-height:7px;text-align:center;color:#262626">A. Biebrach</div><div class="t" style="left:181.40px;top:356.94px;width:70px;line-height:7px;text-align:center;font-weight:700;color:#0c0c0c;letter-spacing:0px">8e</div><div class="t" style="left:181.40px;top:362.95px;width:70px;line-height:7px;text-align:center;font-weight:700;color:#0c0c0c;letter-spacing:0px">H. Schröder</div><div class="t" style="left:181.40px;top:368.96px;width:70px;line-height:7px;text-align:center;color:#262626">K. Dutz</div><div class="t" style="left:181.40px;top:374.97px;width:70px;line-height:7px;text-align:center;color:#262626">A. Kröber</div><div class="t" style="left:181.40px;top:393.00px;width:70px;line-height:7px;text-align:center;font-weight:700;color:#0c0c0c;letter-spacing:0px">8f</div><div class="t" style="left:181.40px;top:399.01px;width:70px;line-height:7px;text-align:center;font-weight:700;color:#0c0c0c;letter-spacing:0px">T. Grützner</div><div class="t" style="left:181.40px;top:405.02px;width:70px;line-height:7px;text-align:center;color:#262626">P. Schriever</div><div class="t" style="left:181.40px;top:411.03px;width:70px;line-height:7px;text-align:center;color:#262626">A. Kröber</div><div class="t" style="left:181.40px;top:429.06px;width:70px;line-height:7px;text-align:center;font-weight:700;color:#0c0c0c;letter-spacing:0px">8g</div><div class="t" style="left:181.40px;top:435.07px;width:70px;line-height:7px;text-align:center;font-weight:700;color:#0c0c0c;letter-spacing:0px">M. Schakies-</div><div class="t" style="left:181.40px;top:441.08px;width:70px;line-height:7px;text-align:center;font-weight:700;color:#0c0c0c;letter-spacing:0px">Ottenstein</div><div class="t" style="left:181.40px;top:447.09px;width:70px;line-height:7px;text-align:center;color:#262626">A. Schülke</div><div class="t" style="left:181.40px;top:453.10px;width:70px;line-height:7px;text-align:center;color:#262626">A. Pöschel</div><div class="t" style="left:181.40px;top:465.12px;width:70px;line-height:7px;text-align:center;font-weight:700;color:#0c0c0c;letter-spacing:0px">IVK 7/8</div><div class="t" style="left:181.40px;top:471.13px;width:70px;line-height:7px;text-align:center;font-weight:700;color:#0c0c0c;letter-spacing:0px">R. Brüggenwerth</div></div>
<div class="t" style="left:242.10px;top:176.30px;width:70px;line-height:8px;font-size:7px;font-weight:700;color:#111;text-align:center">Jahrgang 9</div>
<div class="t" style="left:242.10px;top:183.85px;width:70px;line-height:8px;font-size:6.5px;color:#3a3a3a;text-align:center;transform:scaleX(0.87);transform-origin:50% 50%">JTS:</div>
<div class="t" style="left:242.10px;top:191.10px;width:70px;line-height:8px;font-size:6.5px;color:#3a3a3a;text-align:center;transform:scaleX(0.87);transform-origin:50% 50%"><span style="letter-spacing:-0.15px">M. Metsch-Laarz</span></div>
<div class="t" style="left:242.10px;top:198.35px;width:70px;line-height:8px;font-size:6.5px;color:#3a3a3a;text-align:center;transform:scaleX(0.87);transform-origin:50% 50%">J. Lampe</div>
<div style="position:absolute;left:0;top:0;font-size:5px"><div class="t" style="left:242.10px;top:212.70px;width:70px;line-height:7px;text-align:center;font-weight:700;color:#0c0c0c;letter-spacing:0px">9a</div><div class="t" style="left:242.10px;top:218.71px;width:70px;line-height:7px;text-align:center;font-weight:700;color:#0c0c0c;letter-spacing:0px">J. Gumprecht</div><div class="t" style="left:242.10px;top:224.72px;width:70px;line-height:7px;text-align:center;color:#262626">K. Dutz</div><div class="t" style="left:242.10px;top:230.73px;width:70px;line-height:7px;text-align:center;color:#262626">H. Stein</div><div class="t" style="left:242.10px;top:248.76px;width:70px;line-height:7px;text-align:center;font-weight:700;color:#0c0c0c;letter-spacing:0px">9b</div><div class="t" style="left:242.10px;top:254.77px;width:70px;line-height:7px;text-align:center;font-weight:700;color:#0c0c0c;letter-spacing:0px">M. Metsch-Laarz</div><div class="t" style="left:242.10px;top:260.78px;width:70px;line-height:7px;text-align:center;font-weight:700;color:#0c0c0c;letter-spacing:0px">J. Wolters</div><div class="t" style="left:242.10px;top:266.79px;width:70px;line-height:7px;text-align:center;color:#262626">M. Krauskopf</div><div class="t" style="left:242.10px;top:272.80px;width:70px;line-height:7px;text-align:center;color:#262626">A. Bonacker-Ralbe</div><div class="t" style="left:242.10px;top:284.82px;width:70px;line-height:7px;text-align:center;font-weight:700;color:#0c0c0c;letter-spacing:0px">9c</div><div class="t" style="left:242.10px;top:290.83px;width:70px;line-height:7px;text-align:center;font-weight:700;color:#0c0c0c;letter-spacing:0px">L. Bockelmann</div><div class="t" style="left:242.10px;top:296.84px;width:70px;line-height:7px;text-align:center;font-weight:700;color:#0c0c0c;letter-spacing:0px">J. Lampe</div><div class="t" style="left:242.10px;top:302.85px;width:70px;line-height:7px;text-align:center;color:#262626">M. Krauskopf</div><div class="t" style="left:242.10px;top:308.86px;width:70px;line-height:7px;text-align:center;color:#262626">H. Stein</div><div class="t" style="left:242.10px;top:320.88px;width:70px;line-height:7px;text-align:center;font-weight:700;color:#0c0c0c;letter-spacing:0px">9d</div><div class="t" style="left:242.10px;top:326.89px;width:70px;line-height:7px;text-align:center;font-weight:700;color:#0c0c0c;letter-spacing:0px">M. Ahrens</div><div class="t" style="left:242.10px;top:332.90px;width:70px;line-height:7px;text-align:center;color:#262626">K. Dutz</div><div class="t" style="left:242.10px;top:338.91px;width:70px;line-height:7px;text-align:center;color:#262626">J. Wilhelm</div><div class="t" style="left:242.10px;top:356.94px;width:70px;line-height:7px;text-align:center;font-weight:700;color:#0c0c0c;letter-spacing:0px">9e</div><div class="t" style="left:242.10px;top:362.95px;width:70px;line-height:7px;text-align:center;font-weight:700;color:#0c0c0c;letter-spacing:0px">M. Jerosen</div><div class="t" style="left:242.10px;top:368.96px;width:70px;line-height:7px;text-align:center;font-weight:700;color:#0c0c0c;letter-spacing:0px">A. Nickelsen</div><div class="t" style="left:242.10px;top:374.97px;width:70px;line-height:7px;text-align:center;color:#262626">K. Dutz</div><div class="t" style="left:242.10px;top:380.98px;width:70px;line-height:7px;text-align:center;color:#262626">J. Wilhelm</div><div class="t" style="left:242.10px;top:393.00px;width:70px;line-height:7px;text-align:center;font-weight:700;color:#0c0c0c;letter-spacing:0px">9f</div><div class="t" style="left:242.10px;top:399.01px;width:70px;line-height:7px;text-align:center;font-weight:700;color:#0c0c0c;letter-spacing:0px">T. Gerdes</div><div class="t" style="left:242.10px;top:405.02px;width:70px;line-height:7px;text-align:center;font-weight:700;color:#0c0c0c;letter-spacing:0px">J. Korsukiewitz</div><div class="t" style="left:242.10px;top:411.03px;width:70px;line-height:7px;text-align:center;color:#262626">H. Stein</div><div class="t" style="left:242.10px;top:429.06px;width:70px;line-height:7px;text-align:center;font-weight:700;color:#0c0c0c;letter-spacing:0px">9g</div><div class="t" style="left:242.10px;top:435.07px;width:70px;line-height:7px;text-align:center;font-weight:700;color:#0c0c0c;letter-spacing:0px">L. Christiansen</div><div class="t" style="left:242.10px;top:441.08px;width:70px;line-height:7px;text-align:center;color:#262626">K. Dutz</div><div class="t" style="left:242.10px;top:447.09px;width:70px;line-height:7px;text-align:center;color:#262626">J. Wilhelm</div><div class="t" style="left:242.10px;top:465.12px;width:70px;line-height:7px;text-align:center;font-weight:700;color:#0c0c0c;letter-spacing:0px">9h</div><div class="t" style="left:242.10px;top:471.13px;width:70px;line-height:7px;text-align:center;font-weight:700;color:#0c0c0c;letter-spacing:0px">B. Lantellmé</div><div class="t" style="left:242.10px;top:477.14px;width:70px;line-height:7px;text-align:center;font-weight:700;color:#0c0c0c;letter-spacing:0px">P. Schelböck</div><div class="t" style="left:242.10px;top:483.15px;width:70px;line-height:7px;text-align:center;color:#262626">K. Dutz</div><div class="t" style="left:242.10px;top:489.16px;width:70px;line-height:7px;text-align:center;color:#262626">A. Bonacker-Ralbe</div></div>
<div class="t" style="left:297.05px;top:176.30px;width:70px;line-height:8px;font-size:7px;font-weight:700;color:#111;text-align:center">Jahrgang 10</div>
<div class="t" style="left:297.05px;top:183.85px;width:70px;line-height:8px;font-size:6.5px;color:#3a3a3a;text-align:center;transform:scaleX(0.87);transform-origin:50% 50%">JTS:</div>
<div class="t" style="left:297.05px;top:191.10px;width:70px;line-height:8px;font-size:6.5px;color:#3a3a3a;text-align:center;transform:scaleX(0.87);transform-origin:50% 50%">K. Tombrägel</div>
<div class="t" style="left:297.05px;top:198.35px;width:70px;line-height:8px;font-size:6.5px;color:#3a3a3a;text-align:center;transform:scaleX(0.87);transform-origin:50% 50%">E. Kopasaki</div>
<div style="position:absolute;left:0;top:0;font-size:5px"><div class="t" style="left:297.05px;top:212.70px;width:70px;line-height:7px;text-align:center;font-weight:700;color:#0c0c0c;letter-spacing:0px">10a</div><div class="t" style="left:297.05px;top:218.71px;width:70px;line-height:7px;text-align:center;font-weight:700;color:#0c0c0c;letter-spacing:0px">E. Kopasaki</div><div class="t" style="left:297.05px;top:224.72px;width:70px;line-height:7px;text-align:center;color:#262626">L. Treder</div><div class="t" style="left:297.05px;top:248.76px;width:70px;line-height:7px;text-align:center;font-weight:700;color:#0c0c0c;letter-spacing:0px">10b</div><div class="t" style="left:297.05px;top:254.77px;width:70px;line-height:7px;text-align:center;font-weight:700;color:#0c0c0c;letter-spacing:0px">N. Poppe</div><div class="t" style="left:297.05px;top:260.78px;width:70px;line-height:7px;text-align:center;font-weight:700;color:#0c0c0c;letter-spacing:0px">K. Tombrägel</div><div class="t" style="left:297.05px;top:284.82px;width:70px;line-height:7px;text-align:center;font-weight:700;color:#0c0c0c;letter-spacing:0px">10c</div><div class="t" style="left:297.05px;top:290.83px;width:70px;line-height:7px;text-align:center;font-weight:700;color:#0c0c0c;letter-spacing:0px">O. Borer</div><div class="t" style="left:297.05px;top:296.84px;width:70px;line-height:7px;text-align:center;color:#262626">M. Aqqad</div><div class="t" style="left:297.05px;top:302.85px;width:70px;line-height:7px;text-align:center;color:#262626">H. Stein</div><div class="t" style="left:297.05px;top:320.88px;width:70px;line-height:7px;text-align:center;font-weight:700;color:#0c0c0c;letter-spacing:0px">10d</div><div class="t" style="left:297.05px;top:326.89px;width:70px;line-height:7px;text-align:center;font-weight:700;color:#0c0c0c;letter-spacing:0px">J. Jellito</div><div class="t" style="left:297.05px;top:332.90px;width:70px;line-height:7px;text-align:center;font-weight:700;color:#0c0c0c;letter-spacing:0px">L. Nikolai</div><div class="t" style="left:297.05px;top:338.91px;width:70px;line-height:7px;text-align:center;color:#262626">M. Aqqad</div><div class="t" style="left:297.05px;top:344.92px;width:70px;line-height:7px;text-align:center;color:#262626">H. Stein</div><div class="t" style="left:297.05px;top:350.93px;width:70px;line-height:7px;text-align:center;color:#262626">C. Lux</div><div class="t" style="left:297.05px;top:356.94px;width:70px;line-height:7px;text-align:center;font-weight:700;color:#0c0c0c;letter-spacing:0px">10e</div><div class="t" style="left:297.05px;top:362.95px;width:70px;line-height:7px;text-align:center;font-weight:700;color:#0c0c0c;letter-spacing:0px">A. Stahl</div><div class="t" style="left:297.05px;top:368.96px;width:70px;line-height:7px;text-align:center;color:#262626">J. Wilkenkamp</div><div class="t" style="left:297.05px;top:374.97px;width:70px;line-height:7px;text-align:center;color:#262626">C. Lux</div><div class="t" style="left:297.05px;top:393.00px;width:70px;line-height:7px;text-align:center;font-weight:700;color:#0c0c0c;letter-spacing:0px">10f</div><div class="t" style="left:297.05px;top:399.01px;width:70px;line-height:7px;text-align:center;font-weight:700;color:#0c0c0c;letter-spacing:0px">S. Lentner</div><div class="t" style="left:297.05px;top:405.02px;width:70px;line-height:7px;text-align:center;color:#262626">J. Wilkenkamp</div><div class="t" style="left:297.05px;top:411.03px;width:70px;line-height:7px;text-align:center;color:#262626">C. Lux</div><div class="t" style="left:297.05px;top:429.06px;width:70px;line-height:7px;text-align:center;font-weight:700;color:#0c0c0c;letter-spacing:0px">10g</div><div class="t" style="left:297.05px;top:435.07px;width:70px;line-height:7px;text-align:center;font-weight:700;color:#0c0c0c;letter-spacing:0px"><span style="letter-spacing:-0.25px">S. Longskul-Reisler</span></div><div class="t" style="left:297.05px;top:441.08px;width:70px;line-height:7px;text-align:center;font-weight:700;color:#0c0c0c;letter-spacing:0px">B. Schween</div><div class="t" style="left:297.05px;top:447.09px;width:70px;line-height:7px;text-align:center;color:#262626">M. Krauskopf</div><div class="t" style="left:297.05px;top:453.10px;width:70px;line-height:7px;text-align:center;color:#262626">C. Lux</div><div class="t" style="left:297.05px;top:465.12px;width:70px;line-height:7px;text-align:center;font-weight:700;color:#0c0c0c;letter-spacing:0px">10h</div><div class="t" style="left:297.05px;top:471.13px;width:70px;line-height:7px;text-align:center;font-weight:700;color:#0c0c0c;letter-spacing:0px">J. Brandt</div><div class="t" style="left:297.05px;top:477.14px;width:70px;line-height:7px;text-align:center;color:#262626">J. Wilhelm</div></div>
<div class="t" style="left:352.05px;top:176.30px;width:70px;line-height:8px;font-size:7px;font-weight:700;color:#111;text-align:center">Jahrgang 10</div>
<div class="t" style="left:352.05px;top:184.75px;width:70px;line-height:8px;font-size:6.4px;font-weight:700;color:#111;text-align:center">Prax-Klassen</div>
<div class="t" style="left:352.05px;top:192.30px;width:70px;line-height:8px;font-size:6.5px;color:#3a3a3a;text-align:center;transform:scaleX(0.87);transform-origin:50% 50%">JTS:</div>
<div class="t" style="left:352.05px;top:199.55px;width:70px;line-height:8px;font-size:6.5px;color:#3a3a3a;text-align:center;transform:scaleX(0.87);transform-origin:50% 50%">T. Schrader</div>
<div style="position:absolute;left:0;top:0;font-size:5px"><div class="t" style="left:352.05px;top:212.70px;width:70px;line-height:7px;text-align:center;font-weight:700;color:#0c0c0c;letter-spacing:0px">10 Prax</div><div class="t" style="left:352.05px;top:218.71px;width:70px;line-height:7px;text-align:center;font-weight:700;color:#0c0c0c;letter-spacing:0px">T. Schrader</div></div>
<div class="t" style="left:413.25px;top:176.30px;width:70px;line-height:8px;font-size:7px;font-weight:700;color:#111;text-align:center">Jahrgang 11</div>
<div class="t" style="left:413.25px;top:183.85px;width:70px;line-height:8px;font-size:6.5px;color:#3a3a3a;text-align:center;transform:scaleX(0.93);transform-origin:50% 50%">JTS:</div>
<div class="t" style="left:413.25px;top:191.10px;width:70px;line-height:8px;font-size:6.5px;color:#3a3a3a;text-align:center;transform:scaleX(0.93);transform-origin:50% 50%">S. Younessi</div>
<div style="position:absolute;left:0;top:0;font-size:5px"><div class="t" style="left:413.25px;top:212.70px;width:70px;line-height:7px;text-align:center;font-weight:700;color:#0c0c0c;letter-spacing:0px">11a</div><div class="t" style="left:413.25px;top:218.71px;width:70px;line-height:7px;text-align:center;font-weight:700;color:#0c0c0c;letter-spacing:0px">D. Kabulski</div><div class="t" style="left:413.25px;top:248.76px;width:70px;line-height:7px;text-align:center;font-weight:700;color:#0c0c0c;letter-spacing:0px">11b</div><div class="t" style="left:413.25px;top:254.77px;width:70px;line-height:7px;text-align:center;font-weight:700;color:#0c0c0c;letter-spacing:0px">S. Younessi</div><div class="t" style="left:413.25px;top:260.78px;width:70px;line-height:7px;text-align:center;color:#262626">F. Michaelis</div><div class="t" style="left:413.25px;top:284.82px;width:70px;line-height:7px;text-align:center;font-weight:700;color:#0c0c0c;letter-spacing:0px">11c</div><div class="t" style="left:413.25px;top:290.83px;width:70px;line-height:7px;text-align:center;font-weight:700;color:#0c0c0c;letter-spacing:0px">M. Hielscher</div></div>
<div class="t" style="left:467.75px;top:176.30px;width:70px;line-height:8px;font-size:7px;font-weight:700;color:#111;text-align:center">Jahrgang 12</div>
<div class="t" style="left:467.75px;top:183.85px;width:70px;line-height:8px;font-size:6.5px;color:#3a3a3a;text-align:center;transform:scaleX(0.93);transform-origin:50% 50%">JTS:</div>
<div class="t" style="left:467.75px;top:191.10px;width:70px;line-height:8px;font-size:6.5px;color:#3a3a3a;text-align:center;transform:scaleX(0.93);transform-origin:50% 50%">T. Kirsten</div>
<div style="position:absolute;left:0;top:0;font-size:5px"><div class="t" style="left:467.75px;top:212.70px;width:70px;line-height:7px;text-align:center;font-weight:700;color:#0c0c0c;letter-spacing:0px">12a</div><div class="t" style="left:467.75px;top:218.71px;width:70px;line-height:7px;text-align:center;font-weight:700;color:#0c0c0c;letter-spacing:0px">G. Michel</div><div class="t" style="left:467.75px;top:224.72px;width:70px;line-height:7px;text-align:center;color:#262626">Aktiv in Sport</div><div class="t" style="left:467.75px;top:230.73px;width:70px;line-height:7px;text-align:center;color:#262626">und Politik</div><div class="t" style="left:467.75px;top:248.76px;width:70px;line-height:7px;text-align:center;font-weight:700;color:#0c0c0c;letter-spacing:0px">12b</div><div class="t" style="left:467.75px;top:254.77px;width:70px;line-height:7px;text-align:center;font-weight:700;color:#0c0c0c;letter-spacing:0px">R. Martens</div><div class="t" style="left:467.75px;top:260.78px;width:70px;line-height:7px;text-align:center;color:#262626">Bewegte Zellen</div><div class="t" style="left:467.75px;top:284.82px;width:70px;line-height:7px;text-align:center;font-weight:700;color:#0c0c0c;letter-spacing:0px">12c</div><div class="t" style="left:467.75px;top:290.83px;width:70px;line-height:7px;text-align:center;font-weight:700;color:#0c0c0c;letter-spacing:0px">T. Kirsten</div><div class="t" style="left:467.75px;top:296.84px;width:70px;line-height:7px;text-align:center;color:#262626">Schöpfermensch</div><div class="t" style="left:467.75px;top:302.85px;width:70px;line-height:7px;text-align:center;color:#262626">oder Schöpfergott?</div></div>
<div class="t" style="left:522.05px;top:176.30px;width:70px;line-height:8px;font-size:7px;font-weight:700;color:#111;text-align:center">Jahrgang 13</div>
<div class="t" style="left:522.05px;top:183.85px;width:70px;line-height:8px;font-size:6.5px;color:#3a3a3a;text-align:center;transform:scaleX(0.93);transform-origin:50% 50%">JTS:</div>
<div class="t" style="left:522.05px;top:191.10px;width:70px;line-height:8px;font-size:6.5px;color:#3a3a3a;text-align:center;transform:scaleX(0.93);transform-origin:50% 50%">A. Petereit</div>
<div style="position:absolute;left:0;top:0;font-size:5px"><div class="t" style="left:522.05px;top:212.70px;width:70px;line-height:7px;text-align:center;font-weight:700;color:#0c0c0c;letter-spacing:0px">13a</div><div class="t" style="left:522.05px;top:218.71px;width:70px;line-height:7px;text-align:center;font-weight:700;color:#0c0c0c;letter-spacing:0px">S. Thoma</div><div class="t" style="left:522.05px;top:224.72px;width:70px;line-height:7px;text-align:center;color:#262626">Lebens(t)Räume</div><div class="t" style="left:522.05px;top:248.76px;width:70px;line-height:7px;text-align:center;font-weight:700;color:#0c0c0c;letter-spacing:0px">13b</div><div class="t" style="left:522.05px;top:254.77px;width:70px;line-height:7px;text-align:center;font-weight:700;color:#0c0c0c;letter-spacing:0px">S. Metzger</div><div class="t" style="left:522.05px;top:260.78px;width:70px;line-height:7px;text-align:center;color:#262626">Be in Balance</div><div class="t" style="left:522.05px;top:284.82px;width:70px;line-height:7px;text-align:center;font-weight:700;color:#0c0c0c;letter-spacing:0px">13c</div><div class="t" style="left:522.05px;top:290.83px;width:70px;line-height:7px;text-align:center;font-weight:700;color:#0c0c0c;letter-spacing:0px">A. Petereit</div><div class="t" style="left:522.05px;top:296.84px;width:70px;line-height:7px;text-align:center;color:#262626">Bewegtes Leben</div></div>
<div class="t" style="left:594.10px;top:182.30px;width:52.5px;line-height:6px;font-size:4.7px;font-weight:700;color:#fff;text-align:center;letter-spacing:0.15px;">FÖRDERUNG</div>
<div class="t" style="left:594.10px;top:188.25px;width:52.5px;line-height:6px;font-size:4.7px;font-weight:700;color:#fff;text-align:center;letter-spacing:0.15px;">UND</div>
<div class="t" style="left:594.10px;top:194.20px;width:52.5px;line-height:6px;font-size:4.7px;font-weight:700;color:#fff;text-align:center;letter-spacing:0.15px;">ORIENTIERUNG</div>
<div style="position:absolute;left:0;top:0;font-size:4.9px"><div class="t" style="left:600.70px;top:213.00px;width:60px;line-height:7px;text-align:left;font-weight:700;color:#0c0c0c;letter-spacing:0.05px">FÖRDER-</div><div class="t" style="left:600.70px;top:219.03px;width:60px;line-height:7px;text-align:left;font-weight:700;color:#0c0c0c;letter-spacing:0.05px">KOORDINATION</div><div class="t" style="left:600.70px;top:225.06px;width:60px;line-height:7px;text-align:left;color:#262626">K. Dutz</div><div class="t" style="left:600.70px;top:237.12px;width:60px;line-height:7px;text-align:left;font-weight:700;color:#0c0c0c;letter-spacing:0.05px">SPRACH-</div><div class="t" style="left:600.70px;top:243.15px;width:60px;line-height:7px;text-align:left;font-weight:700;color:#0c0c0c;letter-spacing:0.05px">FÖRDERUNG</div><div class="t" style="left:600.70px;top:249.18px;width:60px;line-height:7px;text-align:left;color:#262626">J. Lampe</div><div class="t" style="left:600.70px;top:261.24px;width:60px;line-height:7px;text-align:left;font-weight:700;color:#0c0c0c;letter-spacing:0.05px">FÖRDER-</div><div class="t" style="left:600.70px;top:267.27px;width:60px;line-height:7px;text-align:left;font-weight:700;color:#0c0c0c;letter-spacing:0.05px">UNTERRICHT</div><div class="t" style="left:600.70px;top:273.30px;width:60px;line-height:7px;text-align:left;color:#262626">J. Lampe</div><div class="t" style="left:600.70px;top:285.36px;width:60px;line-height:7px;text-align:left;font-weight:700;color:#0c0c0c;letter-spacing:0.05px">BEGABTEN-</div><div class="t" style="left:600.70px;top:291.39px;width:60px;line-height:7px;text-align:left;font-weight:700;color:#0c0c0c;letter-spacing:0.05px">FÖRDERUNG</div><div class="t" style="left:600.70px;top:297.42px;width:60px;line-height:7px;text-align:left;color:#262626">K. Viertler</div><div class="t" style="left:600.70px;top:309.48px;width:60px;line-height:7px;text-align:left;font-weight:700;color:#0c0c0c;letter-spacing:0.05px">BERUFS- UND</div><div class="t" style="left:600.70px;top:315.51px;width:60px;line-height:7px;text-align:left;font-weight:700;color:#0c0c0c;letter-spacing:0.05px">STUDIEN-</div><div class="t" style="left:600.70px;top:321.54px;width:60px;line-height:7px;text-align:left;font-weight:700;color:#0c0c0c;letter-spacing:0.05px">ORIENTIERUNG</div><div class="t" style="left:600.70px;top:327.57px;width:60px;line-height:7px;text-align:left;color:#262626">H. Harmel</div><div class="t" style="left:600.70px;top:333.60px;width:60px;line-height:7px;text-align:left;color:#262626">N. Resühr</div><div class="t" style="left:600.70px;top:345.66px;width:60px;line-height:7px;text-align:left;font-weight:700;color:#0c0c0c;letter-spacing:0.05px">AUSBILDUNGS-</div><div class="t" style="left:600.70px;top:351.69px;width:60px;line-height:7px;text-align:left;font-weight:700;color:#0c0c0c;letter-spacing:0.05px">BEAUFTRAGTE</div><div class="t" style="left:600.70px;top:357.72px;width:60px;line-height:7px;text-align:left;color:#262626">S. Rabbel</div><div class="t" style="left:600.70px;top:369.78px;width:60px;line-height:7px;text-align:left;font-weight:700;color:#0c0c0c;letter-spacing:0.05px"><span style="letter-spacing:-0.12px">PÄDAGOGISCHER</span></div><div class="t" style="left:600.70px;top:375.81px;width:60px;line-height:7px;text-align:left;font-weight:700;color:#0c0c0c;letter-spacing:0.05px"><span style="letter-spacing:-0.1px">TRAININGSRAUM</span></div><div class="t" style="left:600.70px;top:381.84px;width:60px;line-height:7px;text-align:left;color:#262626">L. Behrens</div><div class="t" style="left:600.70px;top:393.90px;width:60px;line-height:7px;text-align:left;font-weight:700;color:#0c0c0c;letter-spacing:0.05px">INSEL</div><div class="t" style="left:600.70px;top:399.93px;width:60px;line-height:7px;text-align:left;color:#262626">Komm.</div><div class="t" style="left:600.70px;top:405.96px;width:60px;line-height:7px;text-align:left;color:#262626">J. Breitenstein</div><div class="t" style="left:600.70px;top:418.02px;width:60px;line-height:7px;text-align:left;font-weight:700;color:#0c0c0c;letter-spacing:0.05px">INTER-</div><div class="t" style="left:600.70px;top:424.05px;width:60px;line-height:7px;text-align:left;font-weight:700;color:#0c0c0c;letter-spacing:0.05px">KULTURELLE</div><div class="t" style="left:600.70px;top:430.08px;width:60px;line-height:7px;text-align:left;font-weight:700;color:#0c0c0c;letter-spacing:0.05px">BILDUNG</div><div class="t" style="left:600.70px;top:436.11px;width:60px;line-height:7px;text-align:left;color:#262626">A. Stahl</div><div class="t" style="left:600.70px;top:448.17px;width:60px;line-height:7px;text-align:left;font-weight:700;color:#0c0c0c;letter-spacing:0.05px">NEUE</div><div class="t" style="left:600.70px;top:454.20px;width:60px;line-height:7px;text-align:left;font-weight:700;color:#0c0c0c;letter-spacing:0.05px">LEHRKRÄFTE</div><div class="t" style="left:600.70px;top:460.23px;width:60px;line-height:7px;text-align:left;color:#262626">M. Jeoxen</div><div class="t" style="left:600.70px;top:472.29px;width:60px;line-height:7px;text-align:left;font-weight:700;color:#0c0c0c;letter-spacing:0.05px">BILDUNG FÜR</div><div class="t" style="left:600.70px;top:478.32px;width:60px;line-height:7px;text-align:left;font-weight:700;color:#0c0c0c;letter-spacing:0.05px">NACHHALTIGE</div><div class="t" style="left:600.70px;top:484.35px;width:60px;line-height:7px;text-align:left;font-weight:700;color:#0c0c0c;letter-spacing:0.05px">ENTWICKLUNG</div><div class="t" style="left:600.70px;top:490.38px;width:60px;line-height:7px;text-align:left;color:#262626">S. Reiners</div></div>
<div class="t" style="left:649.20px;top:180.20px;width:52.59999999999991px;line-height:6px;font-size:4.7px;font-weight:700;color:#fff;text-align:center;letter-spacing:0.15px;">ENTWICKLUNGS-</div>
<div class="t" style="left:649.20px;top:186.15px;width:52.59999999999991px;line-height:6px;font-size:4.7px;font-weight:700;color:#fff;text-align:center;letter-spacing:0.15px;">UND</div>
<div class="t" style="left:649.20px;top:192.10px;width:52.59999999999991px;line-height:6px;font-size:4.7px;font-weight:700;color:#fff;text-align:center;letter-spacing:0.15px;">ZUKUNFTS-</div>
<div class="t" style="left:649.20px;top:198.05px;width:52.59999999999991px;line-height:6px;font-size:4.7px;font-weight:700;color:#fff;text-align:center;letter-spacing:0.15px;">MANAGEMENT</div>
<div style="position:absolute;left:0;top:0;font-size:4.9px"><div class="t" style="left:655.80px;top:213.00px;width:60px;line-height:7px;text-align:left;font-weight:700;color:#0c0c0c;letter-spacing:0.05px">STEUERGRUPPE</div><div class="t" style="left:655.80px;top:237.12px;width:60px;line-height:7px;text-align:left;font-weight:700;color:#0c0c0c;letter-spacing:0.05px">ALLESKÖNNER</div><div class="t" style="left:655.80px;top:243.15px;width:60px;line-height:7px;text-align:left;color:#262626">M. von Amsberg</div><div class="t" style="left:655.80px;top:255.21px;width:60px;line-height:7px;text-align:left;font-weight:700;color:#0c0c0c;letter-spacing:0.05px">AUßERUNTER-</div><div class="t" style="left:655.80px;top:261.24px;width:60px;line-height:7px;text-align:left;font-weight:700;color:#0c0c0c;letter-spacing:0.05px">RICHTLICHER</div><div class="t" style="left:655.80px;top:267.27px;width:60px;line-height:7px;text-align:left;font-weight:700;color:#0c0c0c;letter-spacing:0.05px">SPORT</div><div class="t" style="left:655.80px;top:273.30px;width:60px;line-height:7px;text-align:left;color:#262626">J. Jellito</div><div class="t" style="left:655.80px;top:285.36px;width:60px;line-height:7px;text-align:left;font-weight:700;color:#0c0c0c;letter-spacing:0.05px">PROJEKT-</div><div class="t" style="left:655.80px;top:291.39px;width:60px;line-height:7px;text-align:left;font-weight:700;color:#0c0c0c;letter-spacing:0.05px">ORIENTIERTER</div><div class="t" style="left:655.80px;top:297.42px;width:60px;line-height:7px;text-align:left;font-weight:700;color:#0c0c0c;letter-spacing:0.05px">UNTERRICHT</div><div class="t" style="left:655.80px;top:303.45px;width:60px;line-height:7px;text-align:left;color:#262626">M. Schakies-</div><div class="t" style="left:655.80px;top:309.48px;width:60px;line-height:7px;text-align:left;color:#262626">Ottenstein</div><div class="t" style="left:655.80px;top:321.54px;width:60px;line-height:7px;text-align:left;font-weight:700;color:#0c0c0c;letter-spacing:0.05px">KULTURELLE</div><div class="t" style="left:655.80px;top:327.57px;width:60px;line-height:7px;text-align:left;font-weight:700;color:#0c0c0c;letter-spacing:0.05px">BILDUNG</div><div class="t" style="left:655.80px;top:333.60px;width:60px;line-height:7px;text-align:left;color:#262626">S. Valdes</div><div class="t" style="left:655.80px;top:339.63px;width:60px;line-height:7px;text-align:left;color:#262626">T. Merin</div><div class="t" style="left:655.80px;top:351.69px;width:60px;line-height:7px;text-align:left;font-weight:700;color:#0c0c0c;letter-spacing:0.05px">FORTBILDUNG</div><div class="t" style="left:655.80px;top:357.72px;width:60px;line-height:7px;text-align:left;color:#262626">A. Sproth</div><div class="t" style="left:655.80px;top:369.78px;width:60px;line-height:7px;text-align:left;font-weight:700;color:#0c0c0c;letter-spacing:0.05px">WETTBEWERBE</div><div class="t" style="left:655.80px;top:375.81px;width:60px;line-height:7px;text-align:left;color:#262626">T. Grützner</div><div class="t" style="left:655.80px;top:387.87px;width:60px;line-height:7px;text-align:left;font-weight:700;color:#0c0c0c;letter-spacing:0.05px">MINT</div><div class="t" style="left:655.80px;top:393.90px;width:60px;line-height:7px;text-align:left;font-weight:700;color:#0c0c0c;letter-spacing:0.05px">BEAUFTRAGTE</div><div class="t" style="left:655.80px;top:399.93px;width:60px;line-height:7px;text-align:left;color:#262626">J. Wolters</div><div class="t" style="left:655.80px;top:411.99px;width:60px;line-height:7px;text-align:left;font-weight:700;color:#0c0c0c;letter-spacing:0.05px">UMWELT- UND</div><div class="t" style="left:655.80px;top:418.02px;width:60px;line-height:7px;text-align:left;font-weight:700;color:#0c0c0c;letter-spacing:0.05px">KLIMASCHUTZ</div><div class="t" style="left:655.80px;top:424.05px;width:60px;line-height:7px;text-align:left;color:#262626">Dr. K. Schlenvaser</div><div class="t" style="left:655.80px;top:436.11px;width:60px;line-height:7px;text-align:left;font-weight:700;color:#0c0c0c;letter-spacing:0.05px">UNTERRICHTS-</div><div class="t" style="left:655.80px;top:442.14px;width:60px;line-height:7px;text-align:left;font-weight:700;color:#0c0c0c;letter-spacing:0.05px">ENTWICKLUNG</div><div class="t" style="left:655.80px;top:448.17px;width:60px;line-height:7px;text-align:left;font-weight:700;color:#0c0c0c;letter-spacing:0.05px">DIGITALITÄT</div><div class="t" style="left:655.80px;top:454.20px;width:60px;line-height:7px;text-align:left;color:#262626">M. Aylar</div><div class="t" style="left:655.80px;top:466.26px;width:60px;line-height:7px;text-align:left;font-weight:700;color:#0c0c0c;letter-spacing:0.05px">MAKERHUB/</div><div class="t" style="left:655.80px;top:472.29px;width:60px;line-height:7px;text-align:left;font-weight:700;color:#0c0c0c;letter-spacing:0.05px">TÜFTELHAFEN</div><div class="t" style="left:655.80px;top:478.32px;width:60px;line-height:7px;text-align:left;color:#262626">M. Metsch</div><div class="t" style="left:655.80px;top:484.35px;width:60px;line-height:7px;text-align:left;color:#262626">L. Bockelmann</div><div class="t" style="left:655.80px;top:496.41px;width:60px;line-height:7px;text-align:left;font-weight:700;color:#0c0c0c;letter-spacing:0.05px">LERNATELIER</div><div class="t" style="left:655.80px;top:502.44px;width:60px;line-height:7px;text-align:left;color:#262626">M. von Amsberg</div></div>
<div class="t" style="left:725.00px;top:198.70px;width:80px;line-height:6.0px;font-size:5px;font-weight:700;color:#fff;text-align:center;letter-spacing:0.1px;">VERWALTUNG</div>
<div style="position:absolute;left:0;top:0;font-size:4.9px"><div class="t" style="left:718.90px;top:218.80px;width:60px;line-height:7px;text-align:left;font-weight:700;color:#0c0c0c;letter-spacing:0px">VERWALTUNGSLEITUNG</div><div class="t" style="left:718.90px;top:224.83px;width:60px;line-height:7px;text-align:left;color:#262626">L. Offen</div><div class="t" style="left:718.90px;top:236.89px;width:60px;line-height:7px;text-align:left;font-weight:700;color:#0c0c0c;letter-spacing:0px">SCHULBÜRO</div><div class="t" style="left:718.90px;top:242.92px;width:60px;line-height:7px;text-align:left;color:#262626">S. Schulze (Leitung)</div><div class="t" style="left:718.90px;top:248.95px;width:60px;line-height:7px;text-align:left;color:#262626">S. Springmann</div><div class="t" style="left:718.90px;top:254.98px;width:60px;line-height:7px;text-align:left;color:#262626">T. Heygster</div><div class="t" style="left:718.90px;top:261.01px;width:60px;line-height:7px;text-align:left;color:#262626">J. Williams</div><div class="t" style="left:718.90px;top:267.04px;width:60px;line-height:7px;text-align:left;color:#262626">P. Berger</div><div class="t" style="left:718.90px;top:273.07px;width:60px;line-height:7px;text-align:left;color:#262626">H. Dorsch</div><div class="t" style="left:718.90px;top:285.13px;width:60px;line-height:7px;text-align:left;font-weight:700;color:#0c0c0c;letter-spacing:0px">HAUSMEISTERIN</div><div class="t" style="left:718.90px;top:291.16px;width:60px;line-height:7px;text-align:left;color:#262626">D. Friedhold</div><div class="t" style="left:718.90px;top:297.19px;width:60px;line-height:7px;text-align:left;color:#262626">R. Ulbar</div></div>
<div class="t" style="left:754.80px;top:291.86px;width:70px;line-height:5.88px;font-size:4.9px;font-weight:400;color:#2e2e2e;text-align:left;letter-spacing:0px;">Standort: Paul-Sorge-Str.</div>
<div class="t" style="left:754.80px;top:297.86px;width:70px;line-height:5.88px;font-size:4.9px;font-weight:400;color:#2e2e2e;text-align:left;letter-spacing:0px;">Standort: Sachsenweg</div>
<div class="t" style="left:725.50px;top:326.90px;width:80px;line-height:6px;font-size:4.8px;font-weight:700;color:#fff;text-align:center;letter-spacing:0.2px;">BERATUNG</div>
<div class="t" style="left:725.50px;top:332.80px;width:80px;line-height:6px;font-size:4.8px;font-weight:700;color:#fff;text-align:center;letter-spacing:0.2px;">UND</div>
<div class="t" style="left:725.50px;top:338.70px;width:80px;line-height:6px;font-size:4.8px;font-weight:700;color:#fff;text-align:center;letter-spacing:0.2px;">SUPPORT</div>
<div style="position:absolute;left:0;top:0;font-size:4.9px"><div class="t" style="left:719.10px;top:359.90px;width:60px;line-height:7px;text-align:left;font-weight:700;color:#0c0c0c;letter-spacing:0.08px">BERATUNGS-</div><div class="t" style="left:719.10px;top:365.93px;width:60px;line-height:7px;text-align:left;font-weight:700;color:#0c0c0c;letter-spacing:0.08px">DIENST</div><div class="t" style="left:719.10px;top:371.96px;width:60px;line-height:7px;text-align:left;color:#262626">D. Jarkusch</div><div class="t" style="left:719.10px;top:377.99px;width:60px;line-height:7px;text-align:left;color:#262626">A. Schülke</div><div class="t" style="left:719.10px;top:390.05px;width:60px;line-height:7px;text-align:left;font-weight:700;color:#0c0c0c;letter-spacing:0.08px">PARTIZIPATION</div><div class="t" style="left:719.10px;top:396.08px;width:60px;line-height:7px;text-align:left;color:#262626">T. Grützner</div><div class="t" style="left:719.10px;top:402.11px;width:60px;line-height:7px;text-align:left;color:#262626">M. Pabst</div><div class="t" style="left:719.10px;top:414.17px;width:60px;line-height:7px;text-align:left;font-weight:700;color:#0c0c0c;letter-spacing:0.08px">DIVIS</div><div class="t" style="left:719.10px;top:420.20px;width:60px;line-height:7px;text-align:left;color:#262626">H. Schröder</div><div class="t" style="left:719.10px;top:426.23px;width:60px;line-height:7px;text-align:left;color:#262626">T. Kirsten</div><div class="t" style="left:719.10px;top:438.29px;width:60px;line-height:7px;text-align:left;font-weight:700;color:#0c0c0c;letter-spacing:0.08px">EDUPORT</div><div class="t" style="left:719.10px;top:444.32px;width:60px;line-height:7px;text-align:left;color:#262626">T. Kirsten</div><div class="t" style="left:719.10px;top:456.38px;width:60px;line-height:7px;text-align:left;font-weight:700;color:#0c0c0c;letter-spacing:0.08px">STREIT-</div><div class="t" style="left:719.10px;top:462.41px;width:60px;line-height:7px;text-align:left;font-weight:700;color:#0c0c0c;letter-spacing:0.08px">SCHLICHTUNG</div><div class="t" style="left:719.10px;top:468.44px;width:60px;line-height:7px;text-align:left;color:#262626">C. Lux</div><div class="t" style="left:719.10px;top:474.47px;width:60px;line-height:7px;text-align:left;color:#262626">A. Kröber</div><div class="t" style="left:719.10px;top:486.53px;width:60px;line-height:7px;text-align:left;font-weight:700;color:#0c0c0c;letter-spacing:0.08px">SANITÄTSDIENST</div><div class="t" style="left:719.10px;top:492.56px;width:60px;line-height:7px;text-align:left;color:#262626">K. Schröder</div><div class="t" style="left:719.10px;top:504.62px;width:60px;line-height:7px;text-align:left;font-weight:700;color:#0c0c0c;letter-spacing:0.08px">SICHERHEITS-</div><div class="t" style="left:719.10px;top:510.65px;width:60px;line-height:7px;text-align:left;font-weight:700;color:#0c0c0c;letter-spacing:0.08px">BEAUFTRAGTER</div><div class="t" style="left:719.10px;top:516.68px;width:60px;line-height:7px;text-align:left;color:#262626">R. Martens</div><div class="t" style="left:719.10px;top:528.74px;width:60px;line-height:7px;text-align:left;font-weight:700;color:#0c0c0c;letter-spacing:0.08px">IT BERATUNG</div><div class="t" style="left:719.10px;top:534.77px;width:60px;line-height:7px;text-align:left;color:#262626">S. Brandt</div><div class="t" style="left:719.10px;top:540.80px;width:60px;line-height:7px;text-align:left;color:#262626">J. Wolters</div><div class="t" style="left:719.10px;top:552.86px;width:60px;line-height:7px;text-align:left;font-weight:700;color:#0c0c0c;letter-spacing:0.08px">IT FACHKRAFT</div><div class="t" style="left:719.10px;top:558.89px;width:60px;line-height:7px;text-align:left;color:#262626">F. Rieder</div></div>
<div style="position:absolute;left:0;top:0;font-size:4.9px"><div class="t" style="left:770.00px;top:359.90px;width:60px;line-height:7px;text-align:left;font-weight:700;color:#0c0c0c;letter-spacing:0.08px">HAFENMEISTERIN</div><div class="t" style="left:770.00px;top:365.93px;width:60px;line-height:7px;text-align:left;color:#262626">I. Metzner</div><div class="t" style="left:770.00px;top:377.99px;width:60px;line-height:7px;text-align:left;font-weight:700;color:#0c0c0c;letter-spacing:0.08px">SCHUL-</div><div class="t" style="left:770.00px;top:384.02px;width:60px;line-height:7px;text-align:left;font-weight:700;color:#0c0c0c;letter-spacing:0.08px">RESTAURANT</div><div class="t" style="left:770.00px;top:390.05px;width:60px;line-height:7px;text-align:left;color:#262626">J. Duong-</div><div class="t" style="left:770.00px;top:396.08px;width:60px;line-height:7px;text-align:left;color:#262626">Breitenstein</div><div class="t" style="left:770.00px;top:408.14px;width:60px;line-height:7px;text-align:left;font-weight:700;color:#0c0c0c;letter-spacing:0.08px">EVALUATIONS-</div><div class="t" style="left:770.00px;top:414.17px;width:60px;line-height:7px;text-align:left;font-weight:700;color:#0c0c0c;letter-spacing:0.08px">BEAUFTRAGTER</div><div class="t" style="left:770.00px;top:420.20px;width:60px;line-height:7px;text-align:left;color:#262626">S. Fredeweß</div><div class="t" style="left:770.00px;top:432.26px;width:60px;line-height:7px;text-align:left;font-weight:700;color:#0c0c0c;letter-spacing:0.08px">SCHULBUCH-</div><div class="t" style="left:770.00px;top:438.29px;width:60px;line-height:7px;text-align:left;font-weight:700;color:#0c0c0c;letter-spacing:0.08px">VERWALTUNG</div><div class="t" style="left:770.00px;top:444.32px;width:60px;line-height:7px;text-align:left;color:#262626">S. Rabbel</div><div class="t" style="left:770.00px;top:450.35px;width:60px;line-height:7px;text-align:left;color:#262626">A. Petereit</div><div class="t" style="left:770.00px;top:462.41px;width:60px;line-height:7px;text-align:left;font-weight:700;color:#0c0c0c;letter-spacing:0.08px">HANDWERKS-</div><div class="t" style="left:770.00px;top:468.44px;width:60px;line-height:7px;text-align:left;font-weight:700;color:#0c0c0c;letter-spacing:0.08px">MEISTER</div><div class="t" style="left:770.00px;top:474.47px;width:60px;line-height:7px;text-align:left;color:#262626">J. Wahls</div><div class="t" style="left:770.00px;top:486.53px;width:60px;line-height:7px;text-align:left;font-weight:700;color:#0c0c0c;letter-spacing:0.08px">ORGANISATION</div><div class="t" style="left:770.00px;top:492.56px;width:60px;line-height:7px;text-align:left;font-weight:700;color:#0c0c0c;letter-spacing:0.08px">VON VER-</div><div class="t" style="left:770.00px;top:498.59px;width:60px;line-height:7px;text-align:left;font-weight:700;color:#0c0c0c;letter-spacing:0.08px">ANSTALTUNGEN</div><div class="t" style="left:770.00px;top:504.62px;width:60px;line-height:7px;text-align:left;color:#262626">J. Beu</div><div class="t" style="left:770.00px;top:516.68px;width:60px;line-height:7px;text-align:left;font-weight:700;color:#0c0c0c;letter-spacing:0.08px">ÖFFENTLICH-</div><div class="t" style="left:770.00px;top:522.71px;width:60px;line-height:7px;text-align:left;font-weight:700;color:#0c0c0c;letter-spacing:0.08px">KEITSARBEIT</div><div class="t" style="left:770.00px;top:528.74px;width:60px;line-height:7px;text-align:left;color:#262626">C. Lux</div><div class="t" style="left:770.00px;top:540.80px;width:60px;line-height:7px;text-align:left;font-weight:700;color:#0c0c0c;letter-spacing:0.08px">ONLINE</div><div class="t" style="left:770.00px;top:546.83px;width:60px;line-height:7px;text-align:left;font-weight:700;color:#0c0c0c;letter-spacing:0.08px">AUFTRITTE</div><div class="t" style="left:770.00px;top:552.86px;width:60px;line-height:7px;text-align:left;color:#262626">T. Grützner</div></div>
<div class="t" style="left:100px;top:566px;width:300px;line-height:7px;font-size:7px;text-align:left"><b style="color:#111">GANZTAGSKOORDINATION JG. 5-10</b>&nbsp; <span style="color:#2e2e2e">J. Duong-Breitenstein, A. Biebrach</span></div>
</body></html>
